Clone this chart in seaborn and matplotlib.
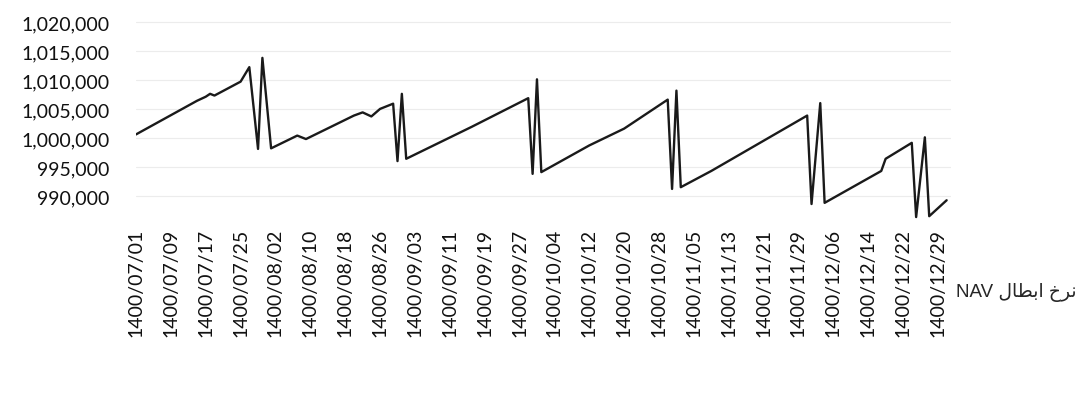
import matplotlib
matplotlib.use("Agg")
from matplotlib import pyplot as plt
import seaborn as sns
import pandas as pd

# row number of the daily table (0 = 1400/07/01) and the NAV read at each turning point
day = [0, 14, 16, 17, 18, 24, 26, 28, 29, 31,
       37, 39, 50, 52, 54, 56, 59, 60, 61, 62,
       77, 90, 91, 92, 93, 104, 112, 122, 123, 124,
       125, 132, 154, 155, 157, 158, 171, 172, 178, 179,
       181, 182, 186]
nav = [1000600, 1006400, 1007100, 1007600, 1007300, 1009700, 1012200, 998100, 1013800, 998200,
       1000400, 999800, 1003850, 1004400, 1003700, 1005000, 1005900, 996000, 1007600, 996400,
       1001900, 1006850, 993800, 1010100, 994100, 998700, 1001600, 1006600, 991200, 1008150,
       991500, 994300, 1003850, 988600, 1006000, 988800, 994300, 996400, 999150, 986350,
       1000100, 986500, 989250]

tick_days = list(range(0, 185, 8))
tick_labels = ['1400/07/01', '1400/07/09', '1400/07/17', '1400/07/25', '1400/08/02',
               '1400/08/10', '1400/08/18', '1400/08/26', '1400/09/03', '1400/09/11',
               '1400/09/19', '1400/09/27', '1400/10/04', '1400/10/12', '1400/10/20',
               '1400/10/28', '1400/11/05', '1400/11/13', '1400/11/21', '1400/11/29',
               '1400/12/06', '1400/12/14', '1400/12/22', '1400/12/29']
y_ticks = [990000, 995000, 1000000, 1005000, 1010000, 1015000, 1020000]

# "نرخ ابطال NAV" written in shaped presentation forms, visual order
series_name = 'NAV ' + '\ufedd\ufe8e\ufec4\ufe91\ufe8d' + ' ' + '\ufea5\ufeae\ufee7'

df = pd.DataFrame({'day': day, 'nav': nav})

sns.set_theme(style='white')
plt.rcParams['font.family'] = ['Lato', 'DejaVu Sans']

fig = plt.figure(figsize=(10.8, 4.14), dpi=100)
ax = fig.add_axes([136 / 1080, (414 - 223) / 414, (951 - 136) / 1080, (223 - 20) / 414])

sns.lineplot(data=df, x='day', y='nav', ax=ax, color='#1a1a1a', linewidth=1.7,
             label=series_name)

ax.set_xlim(0, 187)
ax.set_ylim(985500, 1020500)
ax.set_xticks(tick_days)
ax.set_xticklabels(tick_labels, rotation=90, fontsize=14, color='#111111')
ax.set_yticks(y_ticks)
ax.set_yticklabels([f'{v:,}' for v in y_ticks], fontsize=14, color='#111111')
ax.tick_params(axis='y', length=0, pad=19)
ax.tick_params(axis='x', length=0, pad=4)
ax.set_xlabel('')
ax.set_ylabel('')
ax.yaxis.grid(True, color='#ececec', linewidth=0.8)
ax.xaxis.grid(False)
sns.despine(ax=ax, left=True, bottom=True)

leg = ax.legend(loc='center left', bbox_to_anchor=(956 / 1080, 1 - 293 / 414),
                bbox_transform=fig.transFigure, frameon=False, handlelength=0,
                handletextpad=0, borderpad=0, borderaxespad=0,
                prop={'family': ['Liberation Sans', 'DejaVu Sans'], 'size': 13.5})
for h in leg.legend_handles:
    h.set_visible(False)

fig.savefig('out.png', dpi=100)
